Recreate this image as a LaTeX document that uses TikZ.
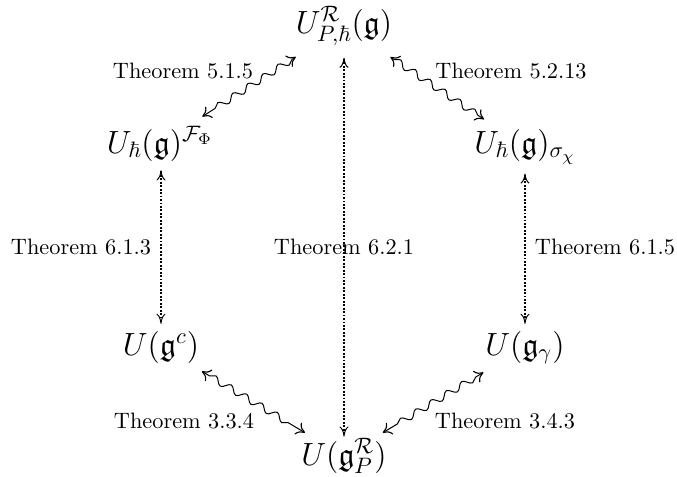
\documentclass[tikz,border=0pt]{standalone}
\usepackage{amssymb}
\usetikzlibrary{arrows.meta,decorations.pathmorphing}
\begin{document}
\begin{tikzpicture}[x=0.4484pt,y=-0.4484pt,
  mnode/.style={font=\Large, anchor=base, inner sep=3pt},
  lab/.style={font=\normalsize, anchor=base, inner sep=0pt},
  cmtip/.tip={Computer Modern Rightarrow[length=4.5pt,width=4pt,line width=0.45pt]},
  wtip/.tip={Computer Modern Rightarrow[length=3.8pt,width=6pt,line width=0.5pt]},
  dotarrow/.style={cmtip-cmtip, line width=0.85pt, dash pattern=on 0.85pt off 0.7pt},
  wavearrow/.style={wtip-wtip, line width=0.45pt, decorate,
    decoration={snake, amplitude=1.5pt, segment length=8pt, pre length=5pt, post length=5pt}},
]
\useasboundingbox (0,0) rectangle (677,476);
\node[mnode] (top) at (344,33) {$U^{\mathcal{R}}_{P,\hbar}(\mathfrak{g})$};
\node[mnode] (lm) at (160,153) {$U_{\hbar}(\mathfrak{g})^{\mathcal{F}_{\Phi}}$};
\node[mnode] (rm) at (525,153) {$U_{\hbar}(\mathfrak{g})_{\sigma_{\chi}}$};
\node[mnode] (lb) at (161,355) {$U(\mathfrak{g}^{c})$};
\node[mnode] (rb) at (525,355) {$U(\mathfrak{g}_{\gamma})$};
\node[mnode] (bot) at (344,465) {$U(\mathfrak{g}^{\mathcal{R}}_{P})$};

\draw[dotarrow, shorten <=2pt, shorten >=-2.5pt] (top) -- (bot);
\draw[dotarrow, line width=1.3pt, shorten <=1pt] (lm.south -| lb) -- (lb);
\draw[dotarrow, shorten <=1pt] (rm.south -| rb) -- (rb);

\draw[wavearrow, shorten <=3pt, shorten >=2pt] (top) -- (lm);
\draw[wavearrow, shorten <=3pt, shorten >=2pt] (top) -- (rm);
\draw[wavearrow, shorten <=1pt, shorten >=-1.5pt] (lb) -- (bot);
\draw[wavearrow, shorten <=1pt, shorten >=-1.5pt] (rb) -- (bot);

\node[lab] (l515) at (183,78) {Theorem 5.1.5};
\node[lab] (l5213) at (511,78) {Theorem 5.2.13};
\node[lab] (l613) at (81,254) {Theorem 6.1.3};
\node[lab] (l621) at (344,254) {Theorem 6.2.1};
\node[lab] (l615) at (605,254) {Theorem 6.1.5};
\node[lab] (l334) at (184,428) {Theorem 3.3.4};
\node[lab] (l343) at (505,428) {Theorem 3.4.3};
\end{tikzpicture}
\end{document}
